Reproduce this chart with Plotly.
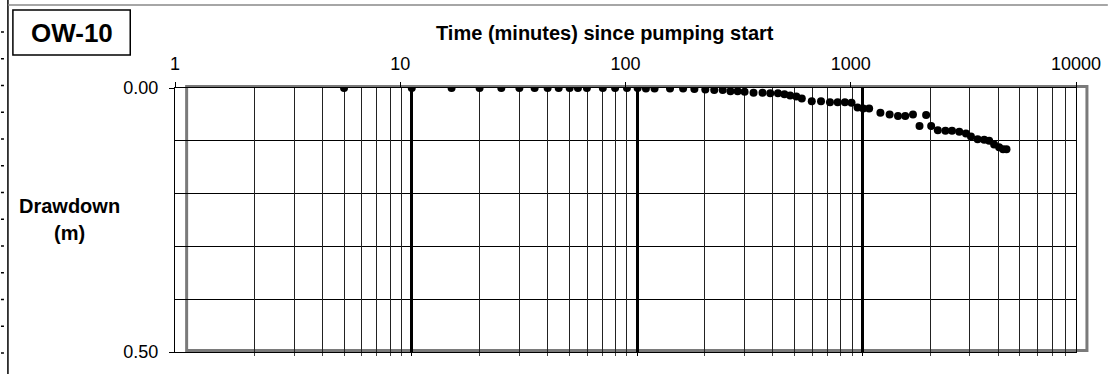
import plotly.graph_objects as go

# ---- data ----
time_min = [5.63, 11.25, 16.9, 22.5, 28.1, 33.8, 39.5, 45.1, 50.5, 56.5, 61.5, 67.4,
            79.3, 89.9, 101.5, 113.2, 123.2, 134.6, 157.6, 180.2, 202.2, 226.1, 247.7,
            270.1, 292.4, 314.7, 337.9, 370.2, 405.7, 439.2, 475.0, 507.6, 538.3, 573.4,
            606.3, 671.3, 737.9, 808.6, 874.5, 941.7, 1008, 1072, 1136, 1207, 1354, 1488,
            1621, 1746, 1889, 2020, 2161, 2275, 2435, 2632, 2816, 3033, 3247, 3417, 3659,
            3912, 4116, 4330, 4557, 4746, 4913]
drawdown_m = [0, 0, 0, 0, 0, 0, 0, 0, 0, 0, 0, 0,
              0, 0, 0, 0, 0.001, 0.001, 0.001, 0.001, 0.002, 0.003, 0.004,
              0.004, 0.006, 0.006, 0.007, 0.009, 0.009, 0.010, 0.010, 0.012, 0.014, 0.016,
              0.020, 0.025, 0.025, 0.027, 0.027, 0.027, 0.028, 0.037, 0.039, 0.039, 0.047, 0.050,
              0.053, 0.053, 0.050, 0.072, 0.051, 0.072, 0.080, 0.081, 0.081, 0.083, 0.086, 0.092, 0.097,
              0.098, 0.100, 0.107, 0.112, 0.116, 0.116]
x_tick_vals = [1, 10, 100, 1000, 10000]
x_tick_text = ["1", "10", "100", "1000", "10000"]
y_tick_vals = [0, 0.5]
y_tick_text = ["0.00", "0.50"]

FONT = "Liberation Sans, Arial, sans-serif"
W, H = 1113, 374
L, R, T, B = 175, 32, 88, 22
PW, PH = W - L - R, H - T - B


def pxx(p):
    return (p - L) / PW


def pxy(p):
    return (H - B - p) / PH


grid_shift = 11.7 / (PW / 4)  # grid image is offset to the right of the axis
minor_vals = [m * 10 ** k for k in range(4) for m in range(2, 10)]

fig = go.Figure()
fig.add_trace(go.Scatter(x=time_min, y=drawdown_m, mode="markers",
                         marker=dict(color="black", size=8), xaxis="x", yaxis="y",
                         showlegend=False))
# anchor trace for the offset grid axis
fig.add_trace(go.Scatter(x=[1], y=[0], mode="markers", marker=dict(opacity=0),
                         xaxis="x2", yaxis="y", showlegend=False, hoverinfo="skip"))

shapes = []
# gray frame of the offset grid
shapes.append(dict(type="rect", xref="paper", yref="paper",
                   x0=pxx(186.7), x1=pxx(1092), y0=pxy(350.5), y1=pxy(86.5),
                   line=dict(color="#7a7a7a", width=3), layer="between"))
# OW-10 box
shapes.append(dict(type="rect", xref="paper", yref="paper",
                   x0=pxx(12), x1=pxx(130), y0=pxy(55), y1=pxy(10),
                   line=dict(color="black", width=1.5)))
# outer frame
shapes.append(dict(type="line", xref="paper", yref="paper",
                   x0=pxx(7), x1=pxx(7), y0=pxy(0), y1=pxy(374),
                   line=dict(color="black", width=1.5)))
shapes.append(dict(type="line", xref="paper", yref="paper",
                   x0=pxx(7), x1=pxx(1113), y0=pxy(5), y1=pxy(5),
                   line=dict(color="#888888", width=1.5)))
# small dashes at the left edge
for k in range(13):
    yy = 32 + 26.75 * k
    shapes.append(dict(type="line", xref="paper", yref="paper",
                       x0=pxx(0), x1=pxx(3), y0=pxy(yy), y1=pxy(yy),
                       line=dict(color="black", width=1.5)))

annotations = [
    dict(text="<b>OW-10</b>", xref="paper", yref="paper", x=pxx(71), y=pxy(33),
         showarrow=False, font=dict(family=FONT, size=26, color="black"),
         xanchor="center", yanchor="middle"),
    dict(text="<b>Time (minutes) since pumping start</b>", xref="paper", yref="paper",
         x=pxx(607), y=pxy(33), showarrow=False,
         font=dict(family=FONT, size=20, color="black"), xanchor="center", yanchor="middle"),
    dict(text="<b>Drawdown</b>", xref="paper", yref="paper", x=pxx(69), y=pxy(206),
         showarrow=False, font=dict(family=FONT, size=20, color="black"),
         xanchor="center", yanchor="middle"),
    dict(text="<b>(m)</b>", xref="paper", yref="paper", x=pxx(69), y=pxy(233),
         showarrow=False, font=dict(family=FONT, size=20, color="black"),
         xanchor="center", yanchor="middle"),
]

fig.update_layout(
    width=W, height=H, autosize=False,
    margin=dict(l=L, r=R, t=T, b=B, pad=0),
    paper_bgcolor="white", plot_bgcolor="white",
    font=dict(family=FONT, size=17, color="black"),
    showlegend=False,
    xaxis=dict(type="log", range=[0, 4], side="top", showline=True, linecolor="black",
               linewidth=1, mirror=True, ticks="outside", ticklen=5, tickcolor="black",
               tickvals=x_tick_vals, ticktext=x_tick_text, showgrid=False, zeroline=False,
               ticklabelstandoff=5,
               tickfont=dict(family=FONT, size=18, color="black")),
    xaxis2=dict(type="log", overlaying="x", anchor="y", side="bottom",
                range=[-grid_shift, 4 - grid_shift], showline=False,
                tickvals=[10, 100, 1000], showticklabels=False, ticks="outside",
                ticklen=3, tickcolor="black", showgrid=True, gridcolor="black",
                gridwidth=3, zeroline=False,
                minor=dict(tickvals=minor_vals, showgrid=True, gridcolor="#222222",
                           gridwidth=1, ticks="outside", ticklen=3, tickcolor="#444444")),
    yaxis=dict(range=[0.5, 0], showline=True, linecolor="black", linewidth=1, mirror=True,
               ticks="outside", ticklen=5, tickcolor="black", tickvals=y_tick_vals,
               ticktext=y_tick_text, showgrid=False, zeroline=False,
               ticklabelstandoff=7,
               tickfont=dict(family=FONT, size=18, color="black"),
               minor=dict(tickvals=[0.1, 0.2, 0.3, 0.4], showgrid=True,
                          gridcolor="black", gridwidth=1, ticks="")),
    shapes=shapes,
    annotations=annotations,
)

fig.write_html("out.html", config={"displayModeBar": False},
               post_script="document.body.style.margin='0px';document.body.style.overflow='hidden';")
